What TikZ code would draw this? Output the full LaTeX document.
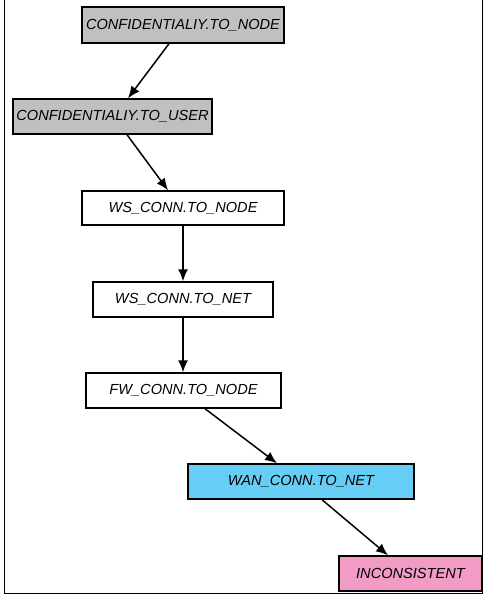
\documentclass[tikz,border=0pt]{standalone}
\usepackage{fontspec}
\setmainfont{Liberation Sans}
\usetikzlibrary{arrows.meta}
\definecolor{boxgray}{RGB}{192,192,192}
\definecolor{boxblue}{RGB}{102,206,245}
\definecolor{boxpink}{RGB}{242,155,198}
\tikzset{
  box/.style={draw=black, line width=1.4pt, inner sep=0pt, font=\fontsize{14.6}{16}\selectfont\itshape, text=black},
  conn/.style={draw=black, line width=1.5pt, -{Latex[length=12pt,width=10pt]}}
}
\begin{document}
\begin{tikzpicture}[x=1pt,y=-1pt]
\useasboundingbox (0,0) rectangle (483,596);
\draw[line width=1pt] (4,0) -- (4,593) -- (482,593) -- (482,0);
\node[box, fill=boxgray, minimum width=202pt, minimum height=36pt] (n1) at (183,25) {CONFIDENTIALIY.TO\_NODE};
\node[box, fill=boxgray, minimum width=199pt, minimum height=35pt] (n2) at (112.5,116.5) {CONFIDENTIALIY.TO\_USER};
\node[box, fill=white, minimum width=202pt, minimum height=34pt] (n3) at (183,208) {WS\_CONN.TO\_NODE};
\node[box, fill=white, minimum width=180pt, minimum height=35pt] (n4) at (183,299.5) {WS\_CONN.TO\_NET};
\node[box, fill=white, minimum width=195pt, minimum height=35pt] (n5) at (183.5,390.5) {FW\_CONN.TO\_NODE};
\node[box, fill=boxblue, minimum width=226pt, minimum height=35pt] (n6) at (301,481.5) {WAN\_CONN.TO\_NET};
\node[box, fill=boxpink, minimum width=143pt, minimum height=35pt] (n7) at (410.5,573.5) {INCONSISTENT};
\draw[conn] ([xshift=-14pt]n1.south) -- ([xshift=15.5pt]n2.north);
\draw[conn] ([xshift=14.5pt]n2.south) -- ([xshift=-15pt]n3.north);
\draw[conn] (n3.south) -- (n3.south |- n4.north);
\draw[conn] (n4.south) -- (n4.south |- n5.north);
\draw[conn] ([xshift=21.5pt]n5.south) -- ([xshift=-24pt]n6.north);
\draw[conn] ([xshift=21pt]n6.south) -- ([xshift=-22.5pt]n7.north);
\end{tikzpicture}
\end{document}
